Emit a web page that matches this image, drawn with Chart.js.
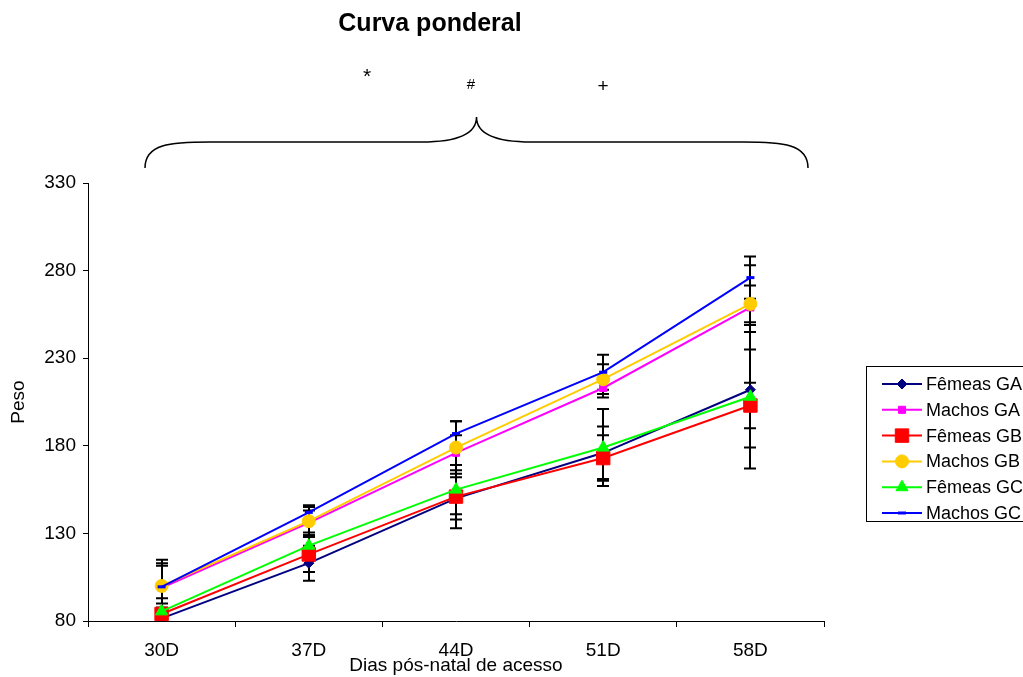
<!DOCTYPE html>
<html>
<head>
<meta charset="utf-8">
<script src="https://cdn.jsdelivr.net/npm/chart.js@4"></script>
<style>
html, body { margin: 0; padding: 0; background: #fff; }
#wrap { width: 1023px; height: 677px; position: relative; }
</style>
</head>
<body>
<div id="wrap"><canvas id="chart"></canvas></div>
<script>
const days = ['30D', '37D', '44D', '51D', '58D'];
const seriesNames = ['Fêmeas GA', 'Machos GA', 'Fêmeas GB', 'Machos GB', 'Fêmeas GC', 'Machos GC'];

// means
const femeasGA = [81.5, 113, 150, 176, 212];
const machosGA = [99, 136, 176, 213, 259];
const femeasGB = [84, 118, 151, 173, 203];
const machosGB = [100, 137, 179, 218, 261];
const femeasGC = [85.5, 123, 155, 179, 208];
const machosGC = [99.5, 142, 187, 222, 276];

// error bars (+/-)
const femeasGAErr = [6, 10, 12, 15, 33];
const machosGAErr = [14, 7, 10, 5.5, 24];
const femeasGBErr = [6, 10, 18, 13, 13];
const machosGBErr = [15, 8, 15, 8.5, 10.5];
const femeasGCErr = [7.5, 7.5, 14, 22, 41];
const machosGCErr = [12, 4, 7, 10, 12];

const FONT = '"Liberation Sans", Arial, sans-serif';

const mk = (i, data, errors, color, style, radius, bw) => ({
	label: seriesNames[i],
	data: data,
	errors: errors,
	borderColor: color,
	backgroundColor: color,
	pointBackgroundColor: color,
	pointBorderColor: color,
	pointStyle: style,
	pointRadius: radius,
	pointBorderWidth: bw,
	borderWidth: 2,
	tension: 0,
	order: 5 - i
});

const datasets = [
	mk(0, femeasGA, femeasGAErr, '#000080', 'rectRot', 5, 1),
	mk(1, machosGA, machosGAErr, '#ff00ff', 'rect', 5, 1),
	mk(2, femeasGB, femeasGBErr, '#ff0000', 'rect', 9.5, 1),
	mk(3, machosGB, machosGBErr, '#ffcc00', 'circle', 6.5, 1),
	mk(4, femeasGC, femeasGCErr, '#00ff00', 'triangle', 7, 1),
	mk(5, machosGC, machosGCErr, '#0000ff', 'line', 4, 3)
];

const errorBars = {
	id: 'errorBars',
	beforeDatasetsDraw(chart) {
		const {ctx, chartArea, scales: {x, y}} = chart;
		ctx.save();
		ctx.beginPath();
		ctx.rect(chartArea.left, chartArea.top - 2, chartArea.width, chartArea.height + 2);
		ctx.clip();
		ctx.strokeStyle = '#000';
		ctx.lineWidth = 2;
		chart.data.datasets.forEach(ds => {
			ds.data.forEach((v, j) => {
				const e = ds.errors[j];
				const px = Math.round(x.getPixelForValue(j));
				const top = y.getPixelForValue(v + e);
				const bot = y.getPixelForValue(v - e);
				ctx.beginPath();
				ctx.moveTo(px, top); ctx.lineTo(px, bot);
				ctx.moveTo(px - 6, top); ctx.lineTo(px + 6, top);
				ctx.moveTo(px - 6, bot); ctx.lineTo(px + 6, bot);
				ctx.stroke();
			});
		});
		ctx.restore();
	}
};

const sideLegend = {
	id: 'sideLegend',
	afterDraw(chart) {
		const {ctx, chartArea} = chart;
		const bx = chartArea.right + 42, by = 366, rowH = 25.8;
		ctx.save();
		ctx.strokeStyle = '#000';
		ctx.lineWidth = 1;
		ctx.strokeRect(bx + 0.5, by + 0.5, 200, 155);
		ctx.font = '18px ' + FONT;
		ctx.textBaseline = 'middle';
		chart.data.datasets.forEach((ds, i) => {
			const cy = by + 18 + i * rowH;
			ctx.strokeStyle = ds.borderColor;
			ctx.fillStyle = ds.borderColor;
			ctx.lineWidth = 2;
			ctx.beginPath();
			ctx.moveTo(bx + 16, cy); ctx.lineTo(bx + 56, cy);
			ctx.stroke();
			ctx.lineWidth = ds.pointBorderWidth;
			Chart.helpers.drawPoint(ctx, {
				pointStyle: ds.pointStyle,
				radius: ds.pointRadius,
				borderWidth: ds.pointBorderWidth,
				rotation: 0
			}, bx + 36, cy);
			ctx.fillStyle = '#000';
			ctx.fillText(ds.label, bx + 60, cy + 1);
		});
		ctx.restore();
	}
};

const decorations = {
	id: 'decorations',
	afterDraw(chart) {
		const {ctx, chartArea} = chart;
		ctx.save();
		ctx.fillStyle = '#000';
		ctx.textAlign = 'center';
		ctx.textBaseline = 'middle';
		ctx.font = 'bold 25px ' + FONT;
		ctx.fillText('Curva ponderal', 430, 24);
		ctx.font = '21px ' + FONT;
		ctx.fillText('*', 367, 77);
		ctx.font = '19px ' + FONT;
		ctx.fillText('+', 603, 87);
		ctx.font = '15px ' + FONT;
		ctx.fillText('#', 471, 85);

		// brace above the plot
		const x0 = chartArea.left + 57, x1 = chartArea.right - 16, xm = (x0 + x1) / 2;
		const yEnd = 168, yMid = 142, yTip = 117;
		ctx.strokeStyle = '#000';
		ctx.lineWidth = 1.5;
		ctx.beginPath();
		ctx.moveTo(x0, yEnd);
		ctx.bezierCurveTo(x0, yMid + 2, x0 + 25, yMid, x0 + 65, yMid);
		ctx.lineTo(xm - 55, yMid);
		ctx.bezierCurveTo(xm - 20, yMid, xm, yMid - 8, xm, yTip);
		ctx.bezierCurveTo(xm, yMid - 8, xm + 20, yMid, xm + 55, yMid);
		ctx.lineTo(x1 - 65, yMid);
		ctx.bezierCurveTo(x1 - 25, yMid, x1, yMid + 2, x1, yEnd);
		ctx.stroke();
		ctx.restore();
	}
};

const ctx = document.getElementById('chart').getContext('2d');
new Chart(ctx, {
	type: 'line',
	data: { labels: days, datasets: datasets },
	options: {
		responsive: true,
		maintainAspectRatio: false,
		devicePixelRatio: 1,
		animation: false,
		layout: { padding: { left: 0, top: 183, right: 199, bottom: 0 } },
		plugins: {
			legend: { display: false },
			tooltip: { enabled: false }
		},
		scales: {
			x: {
				offset: true,
				grid: { offset: true, drawOnChartArea: false, drawTicks: true, tickLength: 6, color: '#000' },
				border: { display: true, color: '#000', width: 1 },
				ticks: { color: '#000', font: { family: FONT, size: 19 }, padding: 12, maxRotation: 0 },
				title: {
					display: true,
					text: 'Dias pós-natal de acesso',
					color: '#000',
					font: { family: FONT, size: 19 },
					padding: { top: 0, bottom: 0 }
				},
				afterFit: scale => { scale.height = 56; }
			},
			y: {
				min: 80,
				max: 330,
				ticks: { stepSize: 50, color: '#000', font: { family: FONT, size: 19 }, padding: 7 },
				grid: { drawOnChartArea: false, drawTicks: true, tickLength: 5, color: '#000' },
				border: { display: true, color: '#000', width: 1 },
				title: {
					display: true,
					text: 'Peso',
					color: '#000',
					font: { family: FONT, size: 19 },
					padding: { top: 7, bottom: 0 }
				},
				afterFit: scale => { scale.width = 88; }
			}
		}
	},
	plugins: [errorBars, sideLegend, decorations]
});
</script>
</body>
</html>
